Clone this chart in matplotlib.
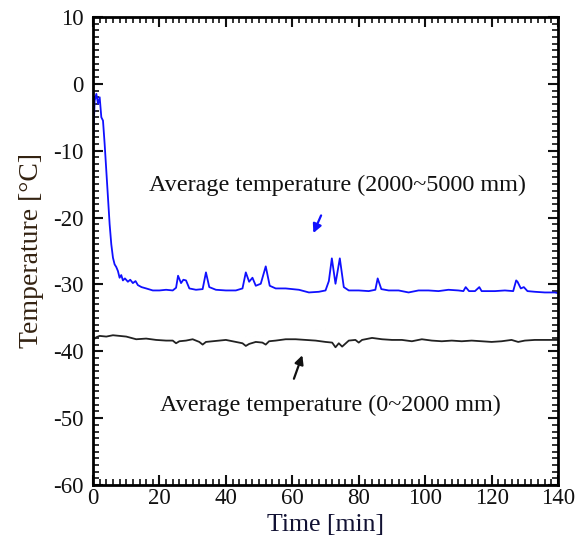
import matplotlib
matplotlib.use("Agg")
import matplotlib.pyplot as plt
from matplotlib.ticker import MultipleLocator

plt.rcParams['font.family'] = ['Liberation Serif', 'DejaVu Serif']
plt.rcParams['axes.unicode_minus'] = False

# Average temperature (2000~5000 mm)  -- blue
t_upper = [0, 0.5, 1.0, 1.5, 2.0, 2.5, 3.0, 3.5, 4.0, 4.5, 5.0, 5.5, 6.0, 6.5, 7.0, 7.5, 8.0,
           8.5, 9.0, 9.6, 10.5, 11.2, 12.0, 12.8, 13.5, 14.6, 16, 18, 20, 22, 24, 25, 25.6, 26.5,
           27.2, 28.0, 29.0, 31, 33, 34.0, 35.0, 37, 40, 43, 45, 46.0, 47.0, 48.0, 49.0, 50.5,
           52.0, 53.2, 55, 58, 62, 65, 68, 70, 71.0, 71.9, 73.0, 74.3, 75.5, 77, 80, 83, 85.0,
           85.7, 86.8, 89, 92, 95, 98, 101, 104, 107, 110, 111.5, 112.2, 113.2, 115, 116.3, 117.0,
           118.0, 121, 124, 126.5, 127.4, 127.8, 128.8, 129.7, 130.8, 133, 136, 139, 140]
v_upper = [-9.0, -2.5, -1.5, -3.0, -2.0, -5.0, -5.5, -9.0, -13.0, -17.0, -21.0, -24.0, -26.0,
           -27.0, -27.4, -28.0, -29.0, -28.6, -29.4, -29.1, -29.6, -29.3, -29.8, -29.5, -30.1,
           -30.4, -30.6, -30.9, -30.9, -30.8, -30.9, -30.5, -28.7, -29.8, -29.3, -29.4, -30.6,
           -30.8, -30.7, -28.2, -30.4, -30.8, -30.9, -30.9, -30.6, -28.2, -29.6, -29.0, -30.2,
           -29.9, -27.3, -30.2, -30.6, -30.6, -30.8, -31.2, -31.1, -30.9, -29.5, -26.1, -29.9,
           -26.1, -30.4, -30.9, -30.9, -31.0, -30.8, -29.1, -30.7, -30.9, -30.9, -31.2, -30.9,
           -30.9, -31.0, -30.8, -30.9, -31.0, -30.4, -31.0, -31.0, -30.4, -31.0, -31.0, -31.0,
           -30.9, -31.0, -29.4, -29.6, -30.6, -30.4, -31.0, -31.1, -31.2, -31.2, -31.3]

# Average temperature (0~2000 mm)  -- black
t_lower = [0, 1, 2, 4, 6, 8, 10, 13, 16, 19, 22, 24, 25, 26, 28, 30, 32, 33, 34, 36, 38, 40,
           43, 45, 46, 47, 49, 51, 52, 53, 55, 58, 61, 64, 67, 70, 72, 73, 74, 75, 77, 79, 80,
           81, 84, 87, 90, 93, 96, 99, 102, 105, 108, 111, 114, 117, 120, 123, 126, 128, 130,
           133, 136, 140]
v_lower = [-38.3, -37.9, -37.7, -37.8, -37.6, -37.7, -37.8, -38.2, -38.1, -38.3, -38.4, -38.4,
           -38.8, -38.5, -38.4, -38.2, -38.6, -39.0, -38.6, -38.5, -38.4, -38.3, -38.6, -38.8,
           -39.2, -38.9, -38.6, -38.7, -39.0, -38.5, -38.4, -38.2, -38.2, -38.3, -38.4, -38.6,
           -38.7, -39.4, -38.8, -39.3, -38.4, -38.3, -38.7, -38.3, -38.0, -38.2, -38.3, -38.3,
           -38.5, -38.2, -38.4, -38.5, -38.4, -38.5, -38.4, -38.5, -38.6, -38.5, -38.3, -38.6,
           -38.4, -38.3, -38.3, -38.3]

label_upper = "Average temperature (2000~5000 mm)"
label_lower = "Average temperature (0~2000 mm)"

fig = plt.figure(figsize=(5.76, 5.41), dpi=100)
ax = fig.add_axes([0.1615, 0.1035, 0.8073, 0.8651])

ax.plot(t_upper, v_upper, color='#1010ff', lw=1.3)
ax.plot(t_lower, v_lower, color='#222222', lw=1.3)

ax.set_xlim(0, 140)
ax.set_ylim(-60, 10)
ax.xaxis.set_major_locator(MultipleLocator(20))
ax.xaxis.set_minor_locator(MultipleLocator(2))
ax.yaxis.set_major_locator(MultipleLocator(10))
ax.yaxis.set_minor_locator(MultipleLocator(1))

ax.tick_params(which='both', direction='in', top=True, right=True, colors='#111111',
               labelsize=16.5)
ax.tick_params(which='major', length=7, width=1.5)
ax.tick_params(which='minor', length=4, width=1.2)
ax.tick_params(axis='y', which='major', pad=7)
ax.tick_params(axis='x', which='major', pad=2)
for s in ax.spines.values():
    s.set_linewidth(2.0)

ax.set_xlabel("Time [min]", fontsize=18.5, labelpad=4, color='#111133')
ax.set_ylabel("Temperature [°C]", fontsize=20, labelpad=6, color='#332211')

ax.text(73.5, -15.2, label_upper, fontsize=17.4, ha='center', va='center', color='#111111')
ax.annotate("", xy=(66.0, -22.7), xytext=(69.0, -19.3),
            arrowprops=dict(arrowstyle='-|>', color='#1010ff', lw=1.6, mutation_scale=13))
ax.text(71.4, -48.1, label_lower, fontsize=17.4, ha='center', va='center', color='#111111')
ax.annotate("", xy=(63.3, -40.2), xytext=(60.2, -44.5),
            arrowprops=dict(arrowstyle='-|>', color='#111111', lw=1.6, mutation_scale=13))

fig.savefig("out.png", dpi=100)
